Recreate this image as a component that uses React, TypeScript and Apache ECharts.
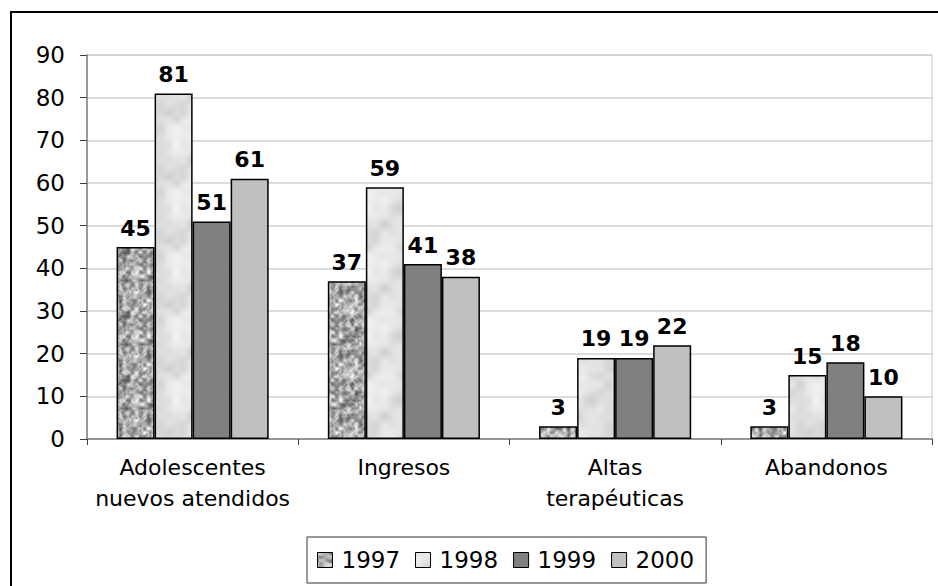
import React, { useEffect, useRef } from "react";
import * as echarts from "echarts";

const categories = ["Adolescentes\nnuevos atendidos", "Ingresos", "Altas\nterapéuticas", "Abandonos"];
const seriesNames = ["1997", "1998", "1999", "2000"];
const values1997 = [45, 37, 3, 3];
const values1998 = [81, 59, 19, 15];
const values1999 = [51, 41, 19, 18];
const values2000 = [61, 38, 22, 10];
const yTicks = { min: 0, max: 90, interval: 10 };

const FONT = "'DejaVu Sans', Verdana, sans-serif";

function hash(x: number, y: number, seed: number): number {
  let h = Math.imul(x, 374761393) + Math.imul(y, 668265263) + Math.imul(seed, 982451653);
  h = Math.imul(h ^ (h >>> 13), 1274126177);
  h = h ^ (h >>> 16);
  return (h >>> 0) / 4294967295;
}

function makeTexture(size: number, cell: number, seed: number, base: number, range: number): HTMLCanvasElement {
  const c = document.createElement("canvas");
  c.width = size;
  c.height = size;
  const ctx = c.getContext("2d")!;
  const img = ctx.createImageData(size, size);
  const n = size / cell;
  const n2 = n * 2;
  const cell2 = cell / 2;
  const sample = (gx: number, gy: number, cs: number, nn: number, s: number) => {
    const fx = gx / cs, fy = gy / cs;
    const x0 = Math.floor(fx), y0 = Math.floor(fy);
    const tx = fx - x0, ty = fy - y0;
    const sx = tx * tx * (3 - 2 * tx), sy = ty * ty * (3 - 2 * ty);
    const a = hash(x0 % nn, y0 % nn, s);
    const b = hash((x0 + 1) % nn, y0 % nn, s);
    const cc = hash(x0 % nn, (y0 + 1) % nn, s);
    const d = hash((x0 + 1) % nn, (y0 + 1) % nn, s);
    return a + (b - a) * sx + (cc - a) * sy + (a - b - cc + d) * sx * sy;
  };
  for (let y = 0; y < size; y++) {
    for (let x = 0; x < size; x++) {
      const v = 0.65 * sample(x, y, cell, n, seed) + 0.35 * sample(x, y, cell2, n2, seed + 7);
      const g = Math.max(0, Math.min(255, Math.round(base + v * range)));
      const i = (y * size + x) * 4;
      img.data[i] = g;
      img.data[i + 1] = g;
      img.data[i + 2] = g;
      img.data[i + 3] = 255;
    }
  }
  ctx.putImageData(img, 0, 0);
  return c;
}

export default function App() {
  const ref = useRef<HTMLDivElement>(null);
  useEffect(() => {
    if (!ref.current) return;
    const chart = echarts.init(ref.current, undefined, { renderer: "svg" });
    const tex1997 = makeTexture(64, 4, 11, 70, 190);
    const tex1998 = makeTexture(64, 16, 23, 205, 45);
    const fills: any[] = [
      { image: tex1997, repeat: "repeat", imageWidth: 64, imageHeight: 64 },
      { image: tex1998, repeat: "repeat", imageWidth: 64, imageHeight: 64 },
      "#808080",
      "#c0c0c0",
    ];
    const data = [values1997, values1998, values1999, values2000];
    const series = seriesNames.map((name, i) => ({
      name,
      type: "bar",
      data: data[i],
      barGap: "0%",
      barCategoryGap: "28%",
      itemStyle: { color: fills[i], borderColor: "#000", borderWidth: 1.5 },
      label: {
        show: true,
        position: "top",
        distance: 8,
        fontFamily: FONT,
        fontWeight: "bold",
        fontSize: 22,
        color: "#000",
      },
    }));
    chart.setOption({
      animation: false,
      backgroundColor: "#fff",
      graphic: [
        {
          type: "rect",
          shape: { x: 11, y: 12, width: 960, height: 620 },
          style: { fill: "none", stroke: "#000", lineWidth: 2 },
          silent: true,
        },
      ],
      grid: {
        left: 87,
        top: 55,
        right: 6,
        bottom: 147,
        show: true,
        borderColor: "#c8c8c8",
        borderWidth: 1,
        backgroundColor: "transparent",
      },
      legend: {
        data: seriesNames,
        left: 307,
        top: 537,
        orient: "horizontal",
        icon: "rect",
        itemWidth: 15,
        itemHeight: 15,
        itemGap: 15,
        padding: [10, 12, 10, 10],
        borderColor: "#333",
        borderWidth: 1,
        backgroundColor: "#fff",
        itemStyle: { borderColor: "#000", borderWidth: 1 },
        textStyle: { fontFamily: FONT, fontSize: 23, color: "#000", lineHeight: 26, padding: [0, 0, 0, 4] },
      },
      xAxis: {
        type: "category",
        data: categories,
        axisLine: { lineStyle: { color: "#808080", width: 1.5 } },
        axisTick: { show: true, length: 6, lineStyle: { color: "#404040" } },
        axisLabel: {
          fontFamily: FONT,
          fontSize: 22,
          color: "#000",
          margin: 13,
          lineHeight: 31,
          interval: 0,
        },
      },
      yAxis: {
        type: "value",
        min: yTicks.min,
        max: yTicks.max,
        interval: yTicks.interval,
        axisLine: { show: true, lineStyle: { color: "#808080", width: 1.5 } },
        axisTick: { show: true, length: 7, lineStyle: { color: "#404040" } },
        axisLabel: { fontFamily: FONT, fontSize: 23, color: "#000", margin: 22 },
        splitLine: { show: true, lineStyle: { color: "#d0d0d0", width: 1.5 } },
      },
      series,
    });
    return () => chart.dispose();
  }, []);
  return (
    <div
      ref={ref}
      style={{ position: "absolute", left: 0, top: 0, width: 938, height: 586 }}
    />
  );
}
